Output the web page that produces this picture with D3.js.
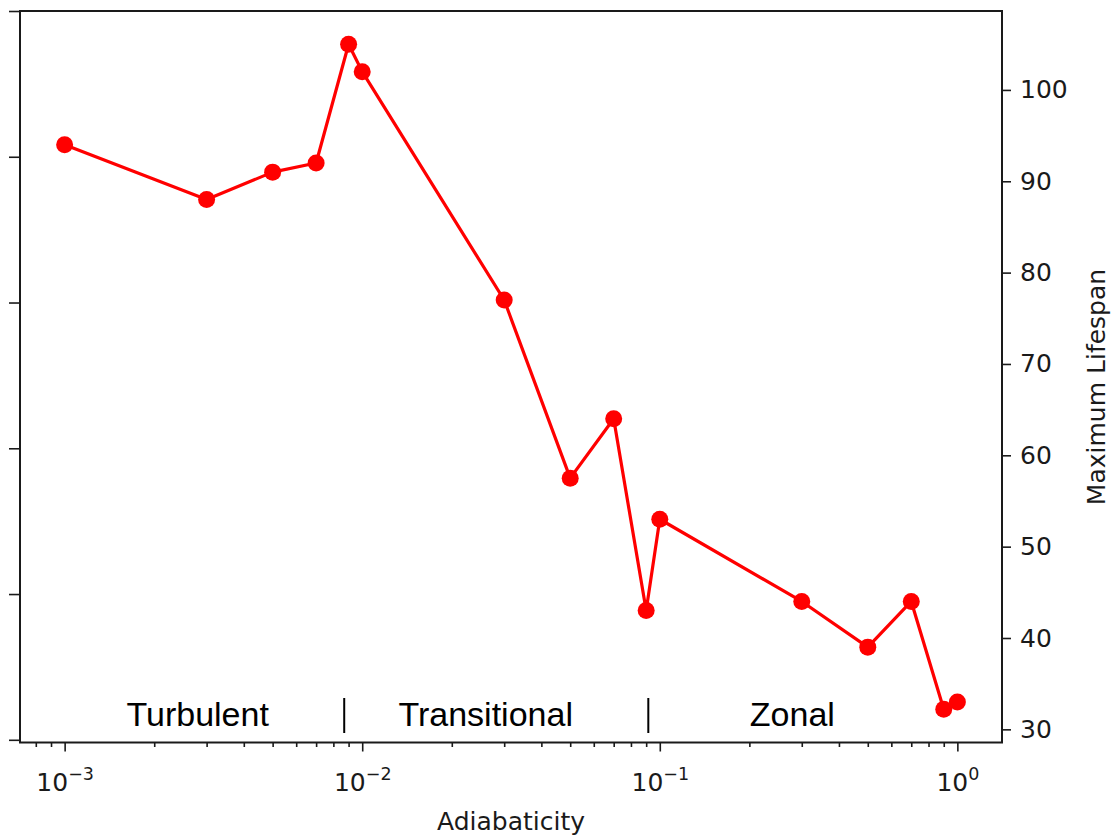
<!DOCTYPE html>
<html>
<head>
<meta charset="utf-8">
<script src="https://cdn.jsdelivr.net/npm/d3@7"></script>
<style>
  html, body { margin: 0; padding: 0; background: #fff; }
  svg { display: block; }
</style>
</head>
<body>
<svg id="chart" width="1119" height="837"></svg>
<script>
// Maximum lifespan versus adiabaticity
const adiabaticity = [0.001, 0.003, 0.005, 0.007, 0.009, 0.01, 0.03, 0.05, 0.07, 0.09, 0.1, 0.3, 0.5, 0.7, 0.9, 1.0];
const maxLifespan  = [94, 88, 91, 92, 105, 102, 77, 57.5, 64, 43, 53, 44, 39, 44, 32.2, 33];

// Tick values
const xMajorTicks = [1e-3, 1e-2, 1e-1, 1e0];
const xTickExponents = ["−3", "−2", "−1", "0"];
const yRightTicks = [30, 40, 50, 60, 70, 80, 90, 100];
const yLeftTicks = [0, 20, 40, 60, 80, 100];

// Regime annotations along the bottom of the plot
const regimeNames = ["Turbulent", "Transitional", "Zonal"];
const regimeCenters = [0.0028, 0.026, 0.279];
const regimeBounds = [0.0087, 0.0915];

const svg = d3.select("#chart");
const plot = { left: 20, right: 1002, top: 11, bottom: 742.5 };

// Log x scale with 5% padding in log space (matplotlib-style margins)
const lx = d3.extent(adiabaticity).map(Math.log10);
const padX = (lx[1] - lx[0]) * 0.05;
const x = d3.scaleLog()
  .domain([Math.pow(10, lx[0] - padX), Math.pow(10, lx[1] + padX)])
  .range([plot.left, plot.right]);

const ly = d3.extent(maxLifespan);
const padY = (ly[1] - ly[0]) * 0.05;
const y = d3.scaleLinear()
  .domain([ly[0] - padY, ly[1] + padY])
  .range([plot.bottom, plot.top]);

// Left (twin) axis: ticks only
const yLeft = d3.scaleLinear().domain([-0.37, 100]).range([plot.bottom, plot.top]);

const tickFont = "'DejaVu Sans', sans-serif";
const ink = "#1a1a1a";

// Minor x ticks (2..9 per decade)
const minorTicks = [];
for (let e = -4; e <= 0; e++) {
  for (let m = 2; m <= 9; m++) {
    const v = m * Math.pow(10, e);
    if (v > x.domain()[0] && v < x.domain()[1]) minorTicks.push(v);
  }
}

const xAxisMinor = d3.axisBottom(x).tickValues(minorTicks).tickSize(4.5).tickFormat("");
const xAxisMajor = d3.axisBottom(x).tickValues(xMajorTicks).tickSize(9).tickFormat("");
const yAxisRight = d3.axisRight(y).tickValues(yRightTicks).tickSize(9).tickPadding(9).tickFormat(d3.format("d"));
const yAxisLeft = d3.axisLeft(yLeft).tickValues(yLeftTicks).tickSize(11).tickFormat("");

function styleAxis(g) {
  g.select(".domain").remove();
  g.selectAll(".tick line").attr("stroke", ink).attr("stroke-width", 1.6);
  g.selectAll(".tick text").attr("fill", ink).style("font-family", tickFont).style("font-size", "25px");
}

svg.append("g").attr("transform", `translate(0,${plot.bottom})`).call(xAxisMinor).call(styleAxis);
const gx = svg.append("g").attr("transform", `translate(0,${plot.bottom})`).call(xAxisMajor).call(styleAxis);
svg.append("g").attr("transform", `translate(${plot.right},0)`).call(yAxisRight).call(styleAxis);
svg.append("g").attr("transform", `translate(${plot.left},0)`).call(yAxisLeft).call(styleAxis);

// Power-of-ten tick labels
gx.selectAll(".tick").each(function(d, i) {
  const t = d3.select(this).append("text")
    .attr("y", 48)
    .attr("fill", ink)
    .attr("text-anchor", "middle")
    .style("font-family", tickFont)
    .style("font-size", "25px");
  t.append("tspan").text("10");
  t.append("tspan").attr("dy", -11).style("font-size", "17.5px").text(xTickExponents[i]);
});

// Frame
svg.append("rect")
  .attr("x", plot.left).attr("y", plot.top)
  .attr("width", plot.right - plot.left).attr("height", plot.bottom - plot.top)
  .attr("fill", "none").attr("stroke", ink).attr("stroke-width", 2);

// Data line and markers
const pts = adiabaticity.map((a, i) => [a, maxLifespan[i]]);
svg.append("path")
  .datum(pts)
  .attr("fill", "none")
  .attr("stroke", "#ff0000")
  .attr("stroke-width", 3.2)
  .attr("stroke-linejoin", "round")
  .attr("d", d3.line().x(d => x(d[0])).y(d => y(d[1])));

svg.append("g").selectAll("circle")
  .data(pts)
  .join("circle")
  .attr("cx", d => x(d[0]))
  .attr("cy", d => y(d[1]))
  .attr("r", 8.5)
  .attr("fill", "#ff0000");

// Regime labels and separators
const labelFont = "'Liberation Sans', Arial, sans-serif";
svg.append("g").selectAll("text")
  .data(regimeNames)
  .join("text")
  .attr("x", (d, i) => x(regimeCenters[i]))
  .attr("y", 726)
  .attr("text-anchor", "middle")
  .attr("fill", "#000")
  .style("font-family", labelFont)
  .style("font-size", "34px")
  .text(d => d);

svg.append("g").selectAll("line")
  .data(regimeBounds)
  .join("line")
  .attr("x1", d => x(d)).attr("x2", d => x(d))
  .attr("y1", 698).attr("y2", 733)
  .attr("stroke", "#000").attr("stroke-width", 2);

// Axis titles
svg.append("text")
  .attr("x", (plot.left + plot.right) / 2)
  .attr("y", 830)
  .attr("text-anchor", "middle")
  .attr("fill", ink)
  .style("font-family", tickFont)
  .style("font-size", "25px")
  .text("Adiabaticity");

svg.append("text")
  .attr("transform", `translate(1105,387) rotate(-90)`)
  .attr("text-anchor", "middle")
  .attr("fill", ink)
  .style("font-family", tickFont)
  .style("font-size", "25px")
  .text("Maximum Lifespan");
</script>
</body>
</html>
